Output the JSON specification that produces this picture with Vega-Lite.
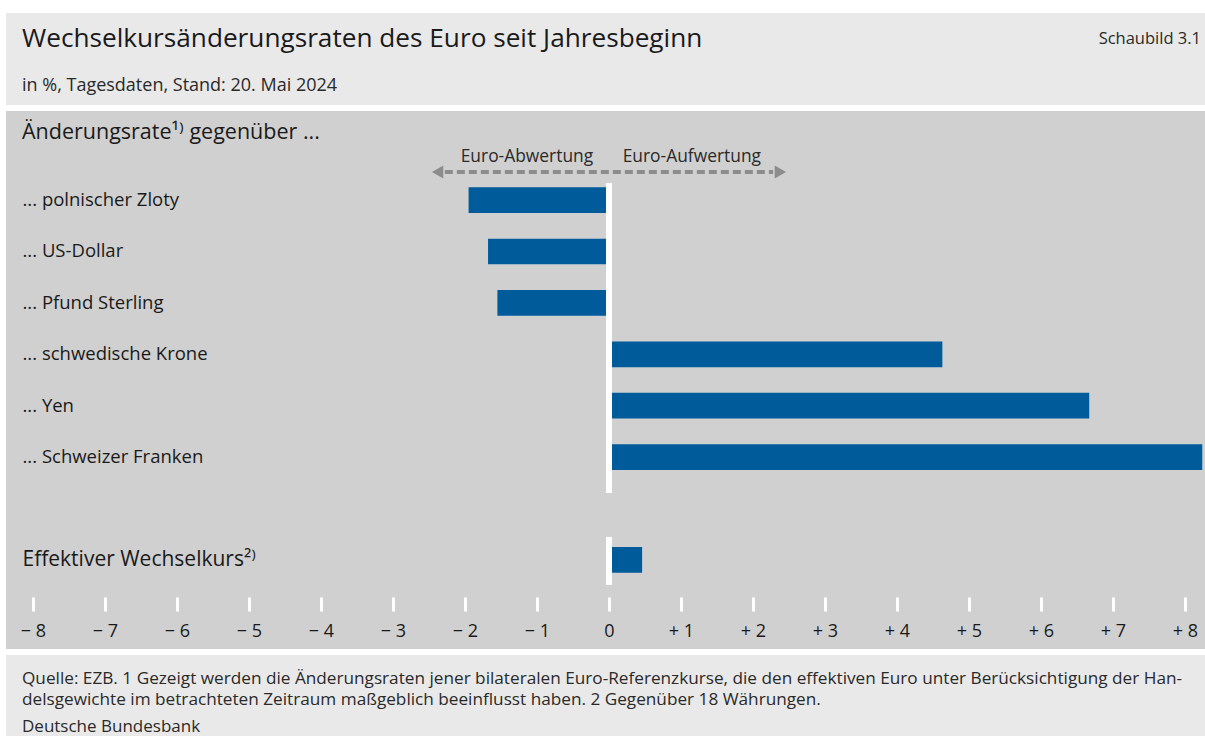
{
  "$schema": "https://vega.github.io/schema/vega-lite/v6.json",
  "background": "white",
  "padding": {"left": 6, "top": 13, "right": 0, "bottom": 0},
  "spacing": 6,
  "config": {
    "view": {"stroke": null},
    "font": "Open Sans",
    "title": {"fontWeight": "normal", "color": "#1a1a1a", "subtitleColor": "#2a2a2a", "anchor": "start", "frame": "group"}
  },
  "datasets": {
    "rates": [
      {"label": "... polnischer Zloty", "value": -1.95},
      {"label": "... US-Dollar", "value": -1.68},
      {"label": "... Pfund Sterling", "value": -1.55},
      {"label": "... schwedische Krone", "value": 4.63},
      {"label": "... Yen", "value": 6.67},
      {"label": "... Schweizer Franken", "value": 8.24},
      {"label": "Effektiver Wechselkurs²⁾", "value": 0.46}
    ]
  },
  "vconcat": [
    {
      "width": 1199,
      "height": 92,
      "view": {"fill": "#e9e9e9", "stroke": null},
      "title": {
        "text": "Wechselkursänderungsraten des Euro seit Jahresbeginn",
        "subtitle": "in %, Tagesdaten, Stand: 20. Mai 2024",
        "fontSize": 26.2,
        "subtitleFontSize": 18,
        "subtitlePadding": 24,
        "offset": -81.5,
        "dx": 16
      },
      "data": {"values": [{"t": "Schaubild 3.1"}]},
      "mark": {"type": "text", "align": "right", "baseline": "middle", "fontSize": 16.5, "color": "#2a2a2a", "dx": -4, "dy": 26},
      "encoding": {
        "text": {"field": "t"},
        "x": {"datum": 1, "type": "quantitative", "scale": {"domain": [0, 1]}, "axis": null},
        "y": {"datum": 1, "type": "quantitative", "scale": {"domain": [0, 1]}, "axis": null}
      }
    },
    {
      "width": 1199,
      "height": 538,
      "view": {"fill": "#d0d0d0", "stroke": null},
      "title": {
        "text": "Änderungsrate¹⁾ gegenüber ...",
        "fontSize": 21.5,
        "offset": -32,
        "dx": 16
      },
      "data": {"name": "rates"},
      "encoding": {
        "y": {
          "field": "label",
          "type": "nominal",
          "scale": {
            "domain": ["  ", "... polnischer Zloty", "... US-Dollar", "... Pfund Sterling", "... schwedische Krone", "... Yen", "... Schweizer Franken", " ", "Effektiver Wechselkurs²⁾", "   "],
            "paddingInner": 0,
            "paddingOuter": 0.233
          },
          "axis": {
            "orient": "left",
            "title": null,
            "domain": false,
            "ticks": false,
            "tickSize": 0,
            "labelAlign": "left",
            "labelPadding": -16,
            "labelColor": "#1a1a1a",
            "labelFontSize": {"condition": {"test": "indexof(datum.value, 'Effektiver') >= 0", "value": 21}, "value": 18.5},
            "labelLimit": 400
          }
        }
      },
      "layer": [
        {
          "mark": {"type": "bar", "color": "#005b9b", "height": {"band": 0.5}},
          "encoding": {
            "x": {
              "field": "value",
              "type": "quantitative",
              "scale": {"domain": [-8.375, 8.278], "nice": false, "zero": false},
              "axis": {
                "values": [-8, -7, -6, -5, -4, -3, -2, -1, 0, 1, 2, 3, 4, 5, 6, 7, 8],
                "orient": "bottom",
                "offset": -52,
                "title": null,
                "domain": false,
                "grid": false,
                "tickColor": "white",
                "tickWidth": 3,
                "tickSize": 14,
                "labelPadding": 11,
                "labelFontSize": 18,
                "labelColor": "#1a1a1a",
                "labelFlush": false,
                "labelExpr": "datum.value > 0 ? '+ ' + datum.value : (datum.value < 0 ? '− ' + abs(datum.value) : '0')"
              }
            },
            "x2": {"datum": 0}
          }
        },
        {
          "data": {"values": [{}]},
          "mark": {"type": "rule", "color": "white", "strokeWidth": 6, "yOffset": -17, "y2Offset": 36},
          "encoding": {
            "x": {"datum": 0},
            "y": {"datum": "... polnischer Zloty"},
            "y2": {"datum": "... Schweizer Franken"}
          }
        },
        {
          "data": {"values": [{}]},
          "mark": {"type": "rule", "color": "white", "strokeWidth": 6, "yOffset": -23, "y2Offset": 25},
          "encoding": {
            "x": {"datum": 0},
            "y": {"datum": "Effektiver Wechselkurs²⁾"},
            "y2": {"datum": "Effektiver Wechselkurs²⁾"}
          }
        },
        {
          "data": {"values": [{}]},
          "mark": {"type": "rule", "color": "#8c8c8c", "strokeWidth": 4, "strokeDash": [8, 4], "yOffset": -28},
          "encoding": {
            "x": {"datum": -2.28},
            "x2": {"datum": 2.28},
            "y": {"datum": "... polnischer Zloty"}
          }
        },
        {
          "data": {"values": [{}]},
          "mark": {"type": "point", "shape": "triangle-left", "filled": true, "color": "#8c8c8c", "opacity": 1, "size": 170, "yOffset": -28},
          "encoding": {
            "x": {"datum": -2.38},
            "y": {"datum": "... polnischer Zloty"}
          }
        },
        {
          "data": {"values": [{}]},
          "mark": {"type": "point", "shape": "triangle-right", "filled": true, "color": "#8c8c8c", "opacity": 1, "size": 170, "yOffset": -28},
          "encoding": {
            "x": {"datum": 2.38},
            "y": {"datum": "... polnischer Zloty"}
          }
        },
        {
          "data": {"values": [{}]},
          "mark": {"type": "text", "text": "Euro-Abwertung", "align": "right", "baseline": "middle", "fontSize": 17.4, "color": "#2a2a2a", "yOffset": -43},
          "encoding": {
            "x": {"datum": -0.22},
            "y": {"datum": "... polnischer Zloty"}
          }
        },
        {
          "data": {"values": [{}]},
          "mark": {"type": "text", "text": "Euro-Aufwertung", "align": "left", "baseline": "middle", "fontSize": 17.4, "color": "#2a2a2a", "yOffset": -43},
          "encoding": {
            "x": {"datum": 0.19},
            "y": {"datum": "... polnischer Zloty"}
          }
        }
      ]
    },
    {
      "width": 1199,
      "height": 81,
      "view": {"fill": "#e9e9e9", "stroke": null},
      "title": {
        "text": [
          "Quelle: EZB. 1 Gezeigt werden die Änderungsraten jener bilateralen Euro-Referenzkurse, die den effektiven Euro unter Berücksichtigung der Han-",
          "delsgewichte im betrachteten Zeitraum maßgeblich beeinflusst haben. 2 Gegenüber 18 Währungen."
        ],
        "subtitle": "Deutsche Bundesbank",
        "fontSize": 17.2,
        "lineHeight": 21,
        "subtitleFontSize": 17,
        "subtitlePadding": 11,
        "color": "#2a2a2a",
        "offset": -80,
        "dx": 16
      },
      "data": {"values": [{}]},
      "mark": {"type": "text", "text": ""},
      "encoding": {}
    }
  ]
}
